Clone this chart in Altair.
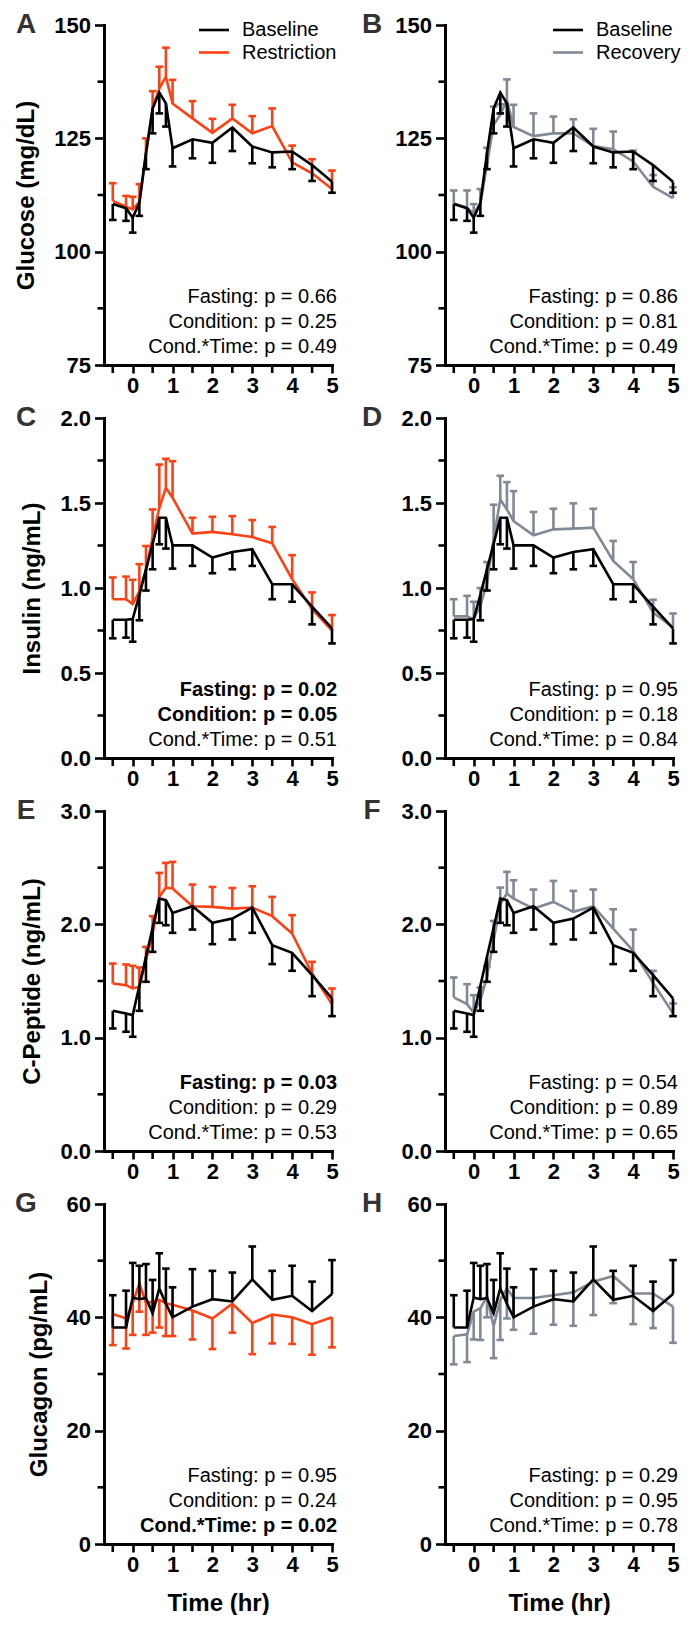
import altair as alt
import pandas as pd

# ---------------- data ----------------
T = [-0.5, -0.167, 0, 0.167, 0.333, 0.5, 0.667, 0.833, 1, 1.5, 2, 2.5, 3, 3.5, 4, 4.5, 5]

GLU_BASE = [110.5, 109.6, 107.5, 110.7, 121.7, 131.6, 135.1, 132.7, 122.8, 124.8, 124.0, 127.4, 123.2, 121.9, 122.1, 119.1, 115.4]
GLU_BASE_SEM = [3.5, 2.8, 3.3, 2.8, 3.5, 5.5, 4.6, 5.1, 4.0, 4.2, 4.4, 5.2, 3.7, 3.3, 3.9, 3.5, 2.4]
GLU_REST = [111.2, 109.9, 109.3, 111.0, 121.7, 131.6, 136.0, 138.6, 132.7, 129.4, 126.2, 129.4, 126.1, 127.7, 119.7, 117.3, 113.8]
GLU_REST_SEM = [3.9, 2.4, 2.8, 3.9, 3.3, 3.8, 4.8, 6.4, 5.2, 3.8, 3.1, 3.0, 3.8, 3.9, 3.7, 3.1, 4.1]
GLU_RECO = [110.6, 109.7, 108.5, 110.5, 119.2, 128.0, 130.2, 133.5, 127.5, 125.5, 126.1, 126.1, 123.3, 122.6, 119.9, 114.3, 111.8]
GLU_RECO_SEM = [2.9, 3.8, 2.0, 3.3, 3.7, 4.0, 2.3, 4.5, 4.9, 5.0, 3.7, 3.1, 3.8, 3.9, 2.4, 2.6, 2.4]

INS_BASE = [0.813, 0.813, 0.817, 0.96, 1.11, 1.26, 1.413, 1.413, 1.251, 1.251, 1.179, 1.212, 1.228, 1.022, 1.022, 0.891, 0.762]
INS_BASE_SEM = [0.109, 0.105, 0.133, 0.15, 0.125, 0.15, 0.156, 0.181, 0.137, 0.121, 0.092, 0.102, 0.098, 0.088, 0.103, 0.105, 0.088]
INS_REST = [0.934, 0.934, 0.905, 0.98, 1.10, 1.30, 1.47, 1.589, 1.531, 1.32, 1.33, 1.316, 1.30, 1.263, 1.052, 0.876, 0.749]
INS_REST_SEM = [0.128, 0.133, 0.143, 0.16, 0.147, 0.162, 0.256, 0.171, 0.215, 0.093, 0.089, 0.107, 0.10, 0.096, 0.141, 0.098, 0.092]
INS_RECO = [0.833, 0.833, 0.817, 0.895, 1.03, 1.29, 1.521, 1.462, 1.394, 1.31, 1.345, 1.349, 1.355, 1.159, 1.052, 0.856, 0.768]
INS_RECO_SEM = [0.101, 0.121, 0.102, 0.105, 0.123, 0.2, 0.139, 0.161, 0.176, 0.137, 0.121, 0.149, 0.111, 0.118, 0.101, 0.075, 0.082]

CPEP_BASE = [1.237, 1.214, 1.199, 1.457, 1.714, 1.97, 2.227, 2.213, 2.101, 2.16, 2.013, 2.051, 2.148, 1.816, 1.748, 1.552, 1.346]
CPEP_BASE_SEM = [0.156, 0.162, 0.191, 0.22, 0.221, 0.213, 0.214, 0.221, 0.176, 0.206, 0.188, 0.185, 0.223, 0.167, 0.158, 0.186, 0.156]
CPEP_REST = [1.478, 1.463, 1.434, 1.449, 1.684, 1.919, 2.242, 2.324, 2.316, 2.16, 2.154, 2.139, 2.148, 2.072, 1.919, 1.566, 1.296]
CPEP_REST_SEM = [0.176, 0.183, 0.2, 0.17, 0.117, 0.153, 0.212, 0.218, 0.235, 0.191, 0.176, 0.182, 0.188, 0.17, 0.162, 0.103, 0.138]
CPEP_RECO = [1.355, 1.296, 1.219, 1.33, 1.537, 1.86, 2.18, 2.272, 2.227, 2.139, 2.198, 2.11, 2.16, 1.963, 1.766, 1.484, 1.214]
CPEP_RECO_SEM = [0.176, 0.176, 0.156, 0.113, 0.094, 0.17, 0.144, 0.191, 0.162, 0.168, 0.185, 0.185, 0.147, 0.17, 0.188, 0.106, 0.088]

GCG_BASE = [38.2, 38.2, 43.5, 43.2, 43.4, 40.7, 45.1, 42.4, 40.0, 41.9, 43.2, 42.8, 46.7, 43.1, 43.8, 41.1, 44.1]
GCG_BASE_SEM = [5.7, 6.5, 6.1, 5.9, 6.0, 5.9, 6.2, 6.2, 5.3, 6.6, 5.0, 5.1, 5.8, 5.1, 5.3, 5.2, 6.0]
GCG_REST = [40.6, 39.8, 42.5, 46.0, 42.5, 42.8, 43.1, 42.5, 42.2, 41.2, 39.8, 42.4, 39.0, 40.5, 40.0, 38.8, 40.0]
GCG_REST_SEM = [5.5, 5.3, 5.6, 5.0, 5.6, 5.5, 4.9, 5.8, 5.5, 5.1, 5.4, 5.1, 5.5, 5.1, 4.7, 5.4, 5.3]
GCG_RECO = [36.7, 37.0, 41.0, 41.6, 43.7, 38.4, 43.1, 45.1, 43.4, 43.4, 43.9, 44.4, 46.3, 47.3, 44.2, 44.2, 41.9]
GCG_RECO_SEM = [5.0, 4.9, 4.9, 5.6, 3.7, 5.6, 7.1, 5.3, 5.6, 6.3, 5.2, 5.9, 5.9, 4.8, 5.4, 6.1, 6.4]

TERMS = ["Fasting", "Condition", "Cond.*Time"]
P_A = ["0.66", "0.25", "0.49"]; B_A = [False, False, False]
P_B = ["0.86", "0.81", "0.49"]; B_B = [False, False, False]
P_C = ["0.02", "0.05", "0.51"]; B_C = [True, True, False]
P_D = ["0.95", "0.18", "0.84"]; B_D = [False, False, False]
P_E = ["0.03", "0.29", "0.53"]; B_E = [True, False, False]
P_F = ["0.54", "0.89", "0.65"]; B_F = [False, False, False]
P_G = ["0.95", "0.24", "0.02"]; B_G = [False, False, True]
P_H = ["0.29", "0.95", "0.78"]; B_H = [False, False, False]

X_MAJOR = [0, 1, 2, 3, 4, 5]
X_MINOR = [-0.5, 0.5, 1.5, 2.5, 3.5, 4.5]
X_DOMAIN = [-0.72, 5]

GLU_DOMAIN = [75, 150]; GLU_MAJOR = [75, 100, 125, 150]; GLU_MINOR = [87.5, 112.5, 137.5]
INS_DOMAIN = [0, 2]; INS_MAJOR = [0, 0.5, 1.0, 1.5, 2.0]; INS_MINOR = [0.25, 0.75, 1.25, 1.75]
CPEP_DOMAIN = [0, 3]; CPEP_MAJOR = [0, 1, 2, 3]; CPEP_MINOR = [0.5, 1.5, 2.5]
GCG_DOMAIN = [0, 60]; GCG_MAJOR = [0, 20, 40, 60]; GCG_MINOR = [10, 30, 50]

# ---------------- styling ----------------
RED = "#FF4013"
GRAY = "#808996"
BLACK = "#000000"
FONT = "Liberation Sans"
W, H = 228, 340
LW = 2.6
XTICK = 8
ONE = pd.DataFrame({"k": [0]})


def series(mean, sem, direction, color, X, Y):
    df = pd.DataFrame({
        "t": T,
        "mean": mean,
        "end": [m + direction * s for m, s in zip(mean, sem)],
    })
    base = alt.Chart(df)
    line = base.mark_line(color=color, strokeWidth=LW).encode(x=X("t"), y=Y("mean"))
    bars = base.mark_rule(color=color, strokeWidth=LW).encode(
        x=X("t"), y=Y("mean"), y2="end:Q"
    )
    caps = base.mark_rule(color=color, strokeWidth=LW, xOffset=-3.8, x2Offset=3.8).encode(
        x=X("t"), x2="t:Q", y=Y("end")
    )
    return [line, bars, caps]


def panel(letter, left, bottom, ydomain, ymajor, yminor, yfmt, ytitle,
          other, other_sem, other_dir, other_color,
          base, base_sem, base_dir, pvals, bolds, legend=None):
    xsc = alt.Scale(domain=X_DOMAIN, nice=False, zero=False)
    ysc = alt.Scale(domain=ydomain, nice=False, zero=False)
    xax = alt.Axis(values=X_MAJOR, format="d", title="Time (hr)" if bottom else "")
    yax = alt.Axis(values=ymajor, format=yfmt, title=ytitle if left else "")

    def X(f):
        return alt.X(f"{f}:Q", scale=xsc, axis=xax)

    def Y(f):
        return alt.Y(f"{f}:Q", scale=ysc, axis=yax)

    layers = []
    layers += series(other, other_sem, other_dir, other_color, X, Y)
    layers += series(base, base_sem, base_dir, BLACK, X, Y)
    # minor y ticks (shorter, unlabeled)
    layers.append(
        alt.Chart(pd.DataFrame({"v": yminor})).mark_rule(color=BLACK, strokeWidth=LW).encode(
            y=Y("v"), x=alt.value(-6.5), x2=alt.value(0)
        )
    )
    # unlabeled half-hour x ticks
    layers.append(
        alt.Chart(pd.DataFrame({"h": X_MINOR})).mark_rule(color=BLACK, strokeWidth=LW).encode(
            x=X("h"), y=alt.value(H), y2=alt.value(H + XTICK)
        )
    )
    # p-value annotations
    for i, (term, p, b) in enumerate(zip(TERMS, pvals, bolds)):
        layers.append(
            alt.Chart(ONE).mark_text(
                text=f"{term}: p = {p}", align="right", baseline="alphabetic",
                fontSize=20, font=FONT, color=BLACK,
                fontWeight="bold" if b else "normal",
            ).encode(x=alt.value(W + 5), y=alt.value(H - 62 + 25 * i))
        )
    # panel letter
    layers.append(
        alt.Chart(ONE).mark_text(
            text=letter, align="center", baseline="middle", fontSize=28,
            fontWeight="bold", font=FONT, color="#333333",
        ).encode(x=alt.value(-78 if left else -73), y=alt.value(0))
    )
    # legend
    if legend is not None:
        labels, colors, x0 = legend
        for j, (lab, col) in enumerate(zip(labels, colors)):
            yy = 5 + 22.5 * j
            layers.append(
                alt.Chart(ONE).mark_rule(color=col, strokeWidth=LW).encode(
                    x=alt.value(x0), x2=alt.value(x0 + 30), y=alt.value(yy)
                )
            )
            layers.append(
                alt.Chart(ONE).mark_text(
                    text=lab, align="left", baseline="middle", fontSize=20,
                    font=FONT, color=BLACK,
                ).encode(x=alt.value(x0 + 43), y=alt.value(yy))
            )
    return alt.layer(*layers).properties(width=W, height=H)


pA = panel("A", True, False, GLU_DOMAIN, GLU_MAJOR, GLU_MINOR, "d", "Glucose (mg/dL)",
           GLU_REST, GLU_REST_SEM, 1, RED, GLU_BASE, GLU_BASE_SEM, -1, P_A, B_A,
           legend=(["Baseline", "Restriction"], [BLACK, RED], 95))
pB = panel("B", False, False, GLU_DOMAIN, GLU_MAJOR, GLU_MINOR, "d", "",
           GLU_RECO, GLU_RECO_SEM, 1, GRAY, GLU_BASE, GLU_BASE_SEM, -1, P_B, B_B,
           legend=(["Baseline", "Recovery"], [BLACK, GRAY], 108))
pC = panel("C", True, False, INS_DOMAIN, INS_MAJOR, INS_MINOR, ".1f", "Insulin (ng/mL)",
           INS_REST, INS_REST_SEM, 1, RED, INS_BASE, INS_BASE_SEM, -1, P_C, B_C)
pD = panel("D", False, False, INS_DOMAIN, INS_MAJOR, INS_MINOR, ".1f", "",
           INS_RECO, INS_RECO_SEM, 1, GRAY, INS_BASE, INS_BASE_SEM, -1, P_D, B_D)
pE = panel("E", True, False, CPEP_DOMAIN, CPEP_MAJOR, CPEP_MINOR, ".1f", "C-Peptide (ng/mL)",
           CPEP_REST, CPEP_REST_SEM, 1, RED, CPEP_BASE, CPEP_BASE_SEM, -1, P_E, B_E)
pF = panel("F", False, False, CPEP_DOMAIN, CPEP_MAJOR, CPEP_MINOR, ".1f", "",
           CPEP_RECO, CPEP_RECO_SEM, 1, GRAY, CPEP_BASE, CPEP_BASE_SEM, -1, P_F, B_F)
pG = panel("G", True, True, GCG_DOMAIN, GCG_MAJOR, GCG_MINOR, "d", "Glucagon (pg/mL)",
           GCG_REST, GCG_REST_SEM, -1, RED, GCG_BASE, GCG_BASE_SEM, 1, P_G, B_G)
pH = panel("H", False, True, GCG_DOMAIN, GCG_MAJOR, GCG_MINOR, "d", "",
           GCG_RECO, GCG_RECO_SEM, -1, GRAY, GCG_BASE, GCG_BASE_SEM, 1, P_H, B_H)

chart = alt.concat(
    pA, pB, pC, pD, pE, pF, pG, pH,
    columns=2,
    spacing={"row": 53, "column": 113},
    bounds="flush",
).properties(
    padding={"left": 6, "top": 3, "right": 0, "bottom": 0}
).configure(
    font=FONT
).configure_view(
    strokeWidth=0
).configure_axis(
    domainColor=BLACK, domainWidth=3, domainCap="square",
    tickColor=BLACK, tickWidth=LW,
    labelColor=BLACK, labelFont=FONT, labelFontSize=22, labelFontWeight="bold",
    labelOverlap=False, labelFlush=False, labelBound=False,
    titleColor=BLACK, titleFont=FONT, titleFontSize=24, titleFontWeight="bold",
    grid=False,
).configure_axisX(
    tickSize=XTICK, labelPadding=2, titlePadding=16,
).configure_axisY(
    tickSize=9.5, labelPadding=4, titlePadding=15,
)

chart.save("out.html", embed_options={"renderer": "svg", "actions": False})
